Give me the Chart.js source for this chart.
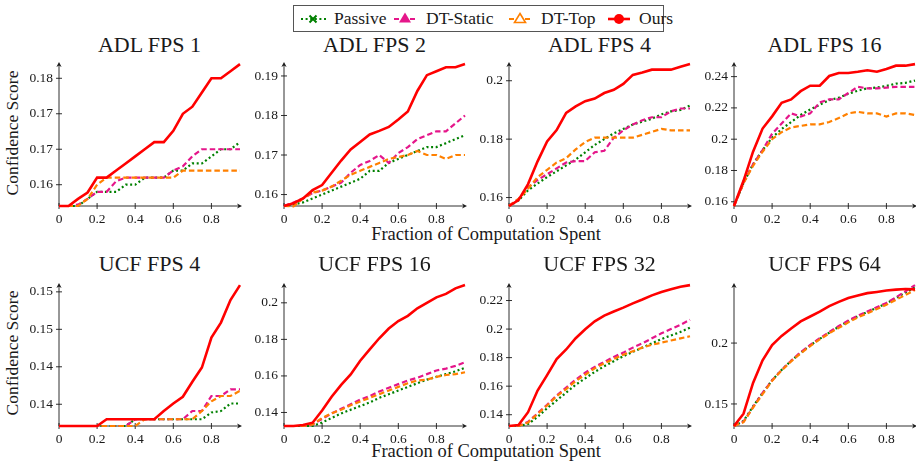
<!DOCTYPE html>
<html>
<head>
<meta charset="utf-8">
<script src="https://cdn.jsdelivr.net/npm/chart.js@4.4.0/dist/chart.umd.min.js"></script>
<style>
  body { margin:0; background:#fff; width:916px; height:464px; position:relative; overflow:hidden; font-family:"Liberation Serif", "Times New Roman", Tinos, "DejaVu Serif", serif; color:#1a1a1a; }
  canvas { position:absolute; }
  .txt { position:absolute; white-space:nowrap; line-height:1; color:#1a1a1a; }
  .title { font-size:22px; transform:translateX(-50%); }
  .xlab { font-size:18.5px; transform:translateX(-50%); }
  .ylab { font-size:17.5px; transform:translate(-50%,-50%) rotate(-90deg); }
  #legend { position:absolute; left:293px; top:5px; width:371px; height:27px; border:1px solid #555; box-sizing:border-box; }
  #legend .lt { position:absolute; font-size:17.5px; line-height:1; top:4px; }
</style>
</head>
<body>
<div id="legend">
  <svg width="371" height="27" style="position:absolute;left:0;top:0">
    <line x1="7" y1="13" x2="32" y2="13" stroke="#008000" stroke-width="2" stroke-dasharray="2 2.6"/>
    <path d="M15.5 9.5 L22.5 16.5 M22.5 9.5 L15.5 16.5" stroke="#008000" stroke-width="2"/>
    <line x1="100" y1="13" x2="122" y2="13" stroke="#e5168a" stroke-width="2.2" stroke-dasharray="5 3"/>
    <path d="M111 6.5 L117 16.5 L105 16.5 Z" fill="#e5168a"/>
    <line x1="215" y1="13" x2="237" y2="13" stroke="#ff8000" stroke-width="2.2" stroke-dasharray="5 3"/>
    <path d="M226 7.5 L231.5 16.5 L220.5 16.5 Z" fill="#fff" stroke="#ff8000" stroke-width="1.6"/>
    <line x1="314" y1="13" x2="336" y2="13" stroke="#ff0000" stroke-width="2.6"/>
    <circle cx="325" cy="13" r="5" fill="#ff0000"/>
  </svg>
  <span class="lt" style="left:40px">Passive</span>
  <span class="lt" style="left:132px">DT-Static</span>
  <span class="lt" style="left:247px">DT-Top</span>
  <span class="lt" style="left:345px">Ours</span>
</div>
<div class="txt xlab" style="left:486px;top:224.5px">Fraction of Computation Spent</div>
<div class="txt xlab" style="left:486px;top:441.5px">Fraction of Computation Spent</div>
<div class="txt ylab" style="left:13px;top:133px">Confidence Score</div>
<div class="txt ylab" style="left:13px;top:353px">Confidence Score</div>
<script>
// fraction of computation spent (x)
const fractions = [0, 0.05, 0.1, 0.15, 0.2, 0.25, 0.3, 0.35, 0.4, 0.45, 0.5, 0.55, 0.6, 0.65, 0.7, 0.75, 0.8, 0.85, 0.9, 0.95];
const seriesNames = ['Passive', 'DT-Static', 'DT-Top', 'Ours'];
const panelTitles = ['ADL FPS 1', 'ADL FPS 2', 'ADL FPS 4', 'ADL FPS 16', 'UCF FPS 4', 'UCF FPS 16', 'UCF FPS 32', 'UCF FPS 64'];
const xTicks = [0, 0.2, 0.4, 0.6, 0.8];
const xTickLabels = ['0', '0.2', '0.4', '0.6', '0.8'];

// ADL FPS 1
const adl1Passive = [0.157,0.157,0.157,0.158,0.159,0.159,0.159,0.160,0.160,0.161,0.161,0.161,0.162,0.162,0.163,0.163,0.164,0.165,0.165,0.166];
const adl1Static  = [0.157,0.157,0.1572,0.158,0.159,0.159,0.1605,0.161,0.161,0.161,0.161,0.161,0.162,0.1626,0.164,0.165,0.165,0.165,0.165,0.165];
const adl1Top     = [0.157,0.157,0.157,0.158,0.160,0.161,0.161,0.161,0.161,0.161,0.161,0.161,0.161,0.162,0.162,0.162,0.162,0.162,0.162,0.162];
const adl1Ours    = [0.157,0.157,0.158,0.1589,0.161,0.161,0.162,0.163,0.164,0.165,0.166,0.166,0.1676,0.170,0.171,0.173,0.175,0.175,0.176,0.177];
// ADL FPS 2
const adl2Passive = [0.1571,0.1575,0.158,0.159,0.160,0.161,0.162,0.163,0.164,0.166,0.166,0.168,0.169,0.170,0.171,0.172,0.172,0.173,0.174,0.175];
const adl2Static  = [0.1571,0.158,0.159,0.1604,0.161,0.162,0.163,0.1655,0.1675,0.1685,0.170,0.168,0.1705,0.172,0.174,0.175,0.176,0.176,0.178,0.180];
const adl2Top     = [0.1571,0.157,0.159,0.1605,0.161,0.162,0.1635,0.165,0.166,0.167,0.168,0.169,0.1695,0.170,0.171,0.170,0.170,0.169,0.170,0.170];
const adl2Ours    = [0.1571,0.1578,0.159,0.1611,0.1624,0.1655,0.1686,0.1714,0.1733,0.1752,0.1761,0.1771,0.179,0.181,0.1862,0.1902,0.1912,0.1922,0.1922,0.193];
// ADL FPS 4
const adl4Passive = [0.1571,0.159,0.1625,0.1648,0.167,0.169,0.171,0.173,0.1755,0.178,0.180,0.182,0.1835,0.185,0.186,0.187,0.1885,0.1895,0.190,0.1915];
const adl4Static  = [0.1571,0.1595,0.1635,0.166,0.168,0.170,0.172,0.1725,0.1725,0.1755,0.176,0.1805,0.183,0.185,0.1865,0.1875,0.1875,0.1895,0.1905,0.1905];
const adl4Top     = [0.1571,0.1595,0.163,0.167,0.1695,0.172,0.1735,0.1765,0.179,0.1805,0.1805,0.1805,0.1805,0.1805,0.1815,0.1825,0.1835,0.183,0.183,0.183];
const adl4Ours    = [0.1571,0.1591,0.1646,0.1724,0.1792,0.1831,0.189,0.1912,0.193,0.1939,0.1958,0.1969,0.1989,0.202,0.2028,0.2038,0.2038,0.2038,0.2048,0.2057];
// ADL FPS 16
const adl16Passive = [0.1573,0.172,0.184,0.193,0.201,0.2065,0.211,0.2155,0.219,0.222,0.225,0.2265,0.229,0.231,0.2325,0.233,0.234,0.2355,0.236,0.2375];
const adl16Static  = [0.1573,0.172,0.184,0.193,0.2035,0.21,0.2165,0.2145,0.2165,0.2235,0.2255,0.2255,0.2295,0.2335,0.2325,0.2325,0.233,0.2335,0.2335,0.2335];
const adl16Top     = [0.1573,0.172,0.183,0.192,0.200,0.2045,0.2075,0.2085,0.2095,0.2095,0.211,0.2135,0.2165,0.2175,0.2165,0.2165,0.2145,0.2165,0.2165,0.2155];
const adl16Ours    = [0.1573,0.1734,0.192,0.2068,0.2146,0.2233,0.2254,0.2307,0.2342,0.2342,0.2404,0.2423,0.2423,0.2431,0.2441,0.2431,0.2449,0.247,0.247,0.248];
// UCF FPS 4
const ucf4Passive = [0.1321,0.1321,0.1321,0.1321,0.1321,0.1321,0.1321,0.1321,0.133,0.133,0.133,0.133,0.133,0.133,0.133,0.133,0.1339,0.1341,0.1351,0.1351];
const ucf4Static  = [0.1321,0.1321,0.1321,0.1321,0.1321,0.1321,0.1321,0.1321,0.133,0.133,0.133,0.133,0.133,0.133,0.1341,0.1341,0.1361,0.1361,0.137,0.137];
const ucf4Top     = [0.1321,0.1321,0.1321,0.1321,0.1321,0.1321,0.1321,0.1321,0.1321,0.133,0.133,0.133,0.133,0.133,0.133,0.1341,0.1354,0.1361,0.1361,0.1368];
const ucf4Ours    = [0.1321,0.1321,0.1321,0.1321,0.1321,0.133,0.133,0.133,0.133,0.133,0.133,0.1341,0.1351,0.136,0.138,0.1399,0.1439,0.1459,0.1489,0.1509];
// UCF FPS 16
const ucf16Passive = [0.1326,0.1326,0.1326,0.1326,0.1345,0.137,0.1395,0.1415,0.1435,0.1455,0.148,0.15,0.152,0.154,0.156,0.158,0.1595,0.161,0.1625,0.1645];
const ucf16Static  = [0.1326,0.1326,0.1326,0.1335,0.1365,0.1395,0.142,0.1445,0.147,0.149,0.1515,0.1535,0.1555,0.1575,0.159,0.161,0.163,0.164,0.1655,0.1675];
const ucf16Top     = [0.1326,0.1326,0.1326,0.1335,0.137,0.1395,0.1415,0.144,0.146,0.148,0.15,0.152,0.154,0.156,0.1575,0.158,0.1595,0.1605,0.161,0.162];
const ucf16Ours    = [0.1326,0.1326,0.1331,0.1344,0.1411,0.1486,0.1551,0.1608,0.1683,0.1745,0.1806,0.1859,0.19,0.1929,0.197,0.2,0.203,0.2049,0.2079,0.2097];
// UCF FPS 32
const ucf32Passive = [0.1321,0.1321,0.1335,0.1385,0.1445,0.15,0.1555,0.161,0.1655,0.17,0.174,0.1775,0.181,0.184,0.187,0.19,0.193,0.1955,0.198,0.201];
const ucf32Static  = [0.1321,0.1321,0.135,0.141,0.147,0.1535,0.159,0.1645,0.1695,0.1735,0.177,0.1805,0.1835,0.187,0.19,0.1935,0.197,0.2,0.203,0.2065];
const ucf32Top     = [0.1321,0.1321,0.1345,0.1405,0.1465,0.153,0.158,0.1635,0.168,0.1725,0.176,0.179,0.182,0.1845,0.187,0.189,0.1905,0.192,0.1935,0.195];
const ucf32Ours    = [0.1321,0.1328,0.1418,0.1569,0.1677,0.179,0.1857,0.1936,0.1999,0.2054,0.2094,0.2123,0.215,0.218,0.2207,0.2236,0.2259,0.2279,0.2297,0.2308];
// UCF FPS 64
const ucf64Passive = [0.1319,0.136,0.148,0.159,0.1695,0.178,0.1855,0.192,0.198,0.2035,0.2085,0.2135,0.218,0.222,0.2255,0.229,0.2325,0.237,0.2415,0.2457];
const ucf64Static  = [0.1319,0.1355,0.1475,0.159,0.1695,0.178,0.1855,0.1925,0.1985,0.204,0.209,0.214,0.2185,0.2225,0.226,0.2295,0.233,0.2375,0.2425,0.2476];
const ucf64Top     = [0.1319,0.135,0.147,0.158,0.169,0.1775,0.185,0.1915,0.1975,0.203,0.208,0.2125,0.217,0.221,0.2245,0.228,0.2315,0.2355,0.2395,0.2436];
const ucf64Ours    = [0.1319,0.142,0.1673,0.1859,0.1984,0.2059,0.212,0.2178,0.2218,0.2258,0.2303,0.2338,0.237,0.2391,0.241,0.242,0.2431,0.2439,0.2444,0.2441];

const panelSeries = [
  [adl1Passive, adl1Static, adl1Top, adl1Ours],
  [adl2Passive, adl2Static, adl2Top, adl2Ours],
  [adl4Passive, adl4Static, adl4Top, adl4Ours],
  [adl16Passive, adl16Static, adl16Top, adl16Ours],
  [ucf4Passive, ucf4Static, ucf4Top, ucf4Ours],
  [ucf16Passive, ucf16Static, ucf16Top, ucf16Ours],
  [ucf32Passive, ucf32Static, ucf32Top, ucf32Ours],
  [ucf64Passive, ucf64Static, ucf64Top, ucf64Ours]
];
const yMins = [0.157, 0.1571, 0.1571, 0.1573, 0.1321, 0.1326, 0.1321, 0.1319];
const yMaxs = [0.177, 0.193, 0.2057, 0.248, 0.1509, 0.2097, 0.2308, 0.2476];
const yTickValues = [
  [0.16, 0.165, 0.17, 0.175], [0.16, 0.17, 0.18, 0.19], [0.16, 0.18, 0.2], [0.16, 0.18, 0.2, 0.22, 0.24],
  [0.135, 0.14, 0.145, 0.15], [0.14, 0.16, 0.18, 0.2], [0.14, 0.16, 0.18, 0.2, 0.22], [0.15, 0.2]
];
const yTickLabels = [
  ['0.16', '0.17', '0.17', '0.18'], ['0.16', '0.17', '0.18', '0.19'], ['0.16', '0.18', '0.2'], ['0.16', '0.18', '0.2', '0.22', '0.24'],
  ['0.14', '0.14', '0.15', '0.15'], ['0.14', '0.16', '0.18', '0.2'], ['0.14', '0.16', '0.18', '0.2', '0.22'], ['0.15', '0.2']
];

const lineStyles = [
  { color: '#008000', dash: [2, 2.6], width: 2.2, order: 3 },
  { color: '#e5168a', dash: [5.5, 3], width: 2.2, order: 2 },
  { color: '#ff8000', dash: [5.5, 3], width: 2.2, order: 1 },
  { color: '#ff0000', dash: [], width: 2.6, order: 0 }
];

// layout of the 4x2 grid (plot area = axis origin to arrow tip)
const colLeft = [59, 284, 509, 734];
const rowTop = [60, 281];
const rowH = [146, 145];
const titleTop = [34.3, 253.3];
const PW = 181, YW = 52, XH = 26, PT = 10, PR = 6;
const FONT = '"Liberation Serif", "Times New Roman", Tinos, "DejaVu Serif", serif';
const INK = '#1a1a1a';

const pgfAxes = {
  id: 'pgfAxes',
  beforeDatasetsDraw(chart) {
    const { ctx, chartArea: a, scales } = chart;
    ctx.save();
    ctx.strokeStyle = INK; ctx.fillStyle = INK; ctx.lineWidth = 0.9;
    ctx.beginPath();
    ctx.moveTo(a.left, a.bottom); ctx.lineTo(a.right, a.bottom);
    ctx.moveTo(a.left, a.bottom); ctx.lineTo(a.left, a.top);
    scales.x.ticks.forEach(t => {
      const px = scales.x.getPixelForValue(t.value);
      ctx.moveTo(px, a.bottom - 3); ctx.lineTo(px, a.bottom + 3);
    });
    scales.y.ticks.forEach(t => {
      const py = scales.y.getPixelForValue(t.value);
      ctx.moveTo(a.left - 3, py); ctx.lineTo(a.left + 3, py);
    });
    ctx.stroke();
    ctx.beginPath();
    ctx.moveTo(a.right + 2, a.bottom); ctx.lineTo(a.right - 3, a.bottom - 2.6);
    ctx.lineTo(a.right - 1.5, a.bottom); ctx.lineTo(a.right - 3, a.bottom + 2.6); ctx.closePath();
    ctx.moveTo(a.left, a.top - 2); ctx.lineTo(a.left - 2.6, a.top + 3);
    ctx.lineTo(a.left, a.top + 1.5); ctx.lineTo(a.left + 2.6, a.top + 3); ctx.closePath();
    ctx.fill();
    ctx.restore();
  }
};

panelTitles.forEach((title, i) => {
  const c = i % 4, r = Math.floor(i / 4);
  const t = document.createElement('div');
  t.className = 'txt title';
  t.style.left = (colLeft[c] + PW / 2) + 'px';
  t.style.top = titleTop[r] + 'px';
  t.textContent = title;
  document.body.appendChild(t);

  const cv = document.createElement('canvas');
  cv.width = YW + PW + PR; cv.height = PT + rowH[r] + XH;
  cv.style.width = cv.width + 'px'; cv.style.height = cv.height + 'px';
  cv.style.left = (colLeft[c] - YW) + 'px';
  cv.style.top = (rowTop[r] - PT) + 'px';
  document.body.appendChild(cv);

  const datasets = panelSeries[i].map((vals, s) => ({
    label: seriesNames[s],
    data: fractions.map((x, k) => ({ x: x, y: vals[k] })),
    borderColor: lineStyles[s].color,
    borderDash: lineStyles[s].dash,
    borderWidth: lineStyles[s].width,
    borderCapStyle: 'butt',
    order: lineStyles[s].order,
    pointRadius: 0,
    tension: 0,
    fill: false,
    clip: 3
  }));

  new Chart(cv, {
    type: 'line',
    data: { datasets: datasets },
    plugins: [pgfAxes],
    options: {
      responsive: false,
      animation: false,
      layout: { padding: { top: PT, right: PR, left: 0, bottom: 0 } },
      plugins: { legend: { display: false }, tooltip: { enabled: false } },
      scales: {
        x: {
          type: 'linear', min: 0, max: 0.95,
          afterBuildTicks: s => { s.ticks = xTicks.map(v => ({ value: v })); },
          afterFit: s => { s.height = XH; },
          grid: { display: false, drawTicks: false },
          border: { display: false },
          ticks: { callback: (v, k) => xTickLabels[k], font: { family: FONT, size: 13.5 }, color: INK, padding: 5, maxRotation: 0, autoSkip: false }
        },
        y: {
          type: 'linear', min: yMins[i], max: yMaxs[i],
          afterBuildTicks: s => { s.ticks = yTickValues[i].map(v => ({ value: v })); },
          afterFit: s => { s.width = YW; },
          grid: { display: false, drawTicks: false },
          border: { display: false },
          ticks: { callback: (v, k) => yTickLabels[i][k], font: { family: FONT, size: 13.5 }, color: INK, padding: 6, autoSkip: false }
        }
      }
    }
  });
});
</script>
</body>
</html>
